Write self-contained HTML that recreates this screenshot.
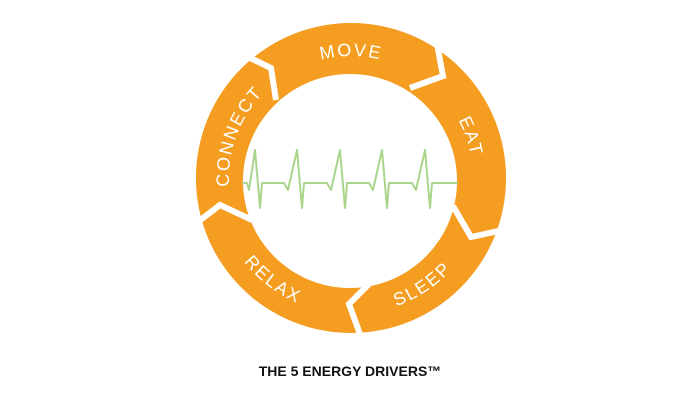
<!DOCTYPE html>
<html><head><style>
html,body{margin:0;padding:0;background:#fff;}
svg{display:block}
</style></head><body>
<svg width="700" height="401" viewBox="0 0 700 401" xmlns="http://www.w3.org/2000/svg">
<defs>
<path id="cw" d="M351,300 A122,122 0 1,1 351,56 A122,122 0 1,1 351,300"/>
<path id="ccw" d="M351,42 A136,136 0 1,0 351,314 A136,136 0 1,0 351,42"/>
</defs>
<path fill="#f49d20" fill-rule="evenodd" d="M351,23 A155,155 0 1,1 351,333 A155,155 0 1,1 351,23 Z M350,74 A107,107 0 1,0 350,288 A107,107 0 1,0 350,74 Z"/>
<g fill="none" stroke="#fff" stroke-width="6" stroke-linejoin="miter">
<polyline points="434,28 443,76 410,88"/>
<polyline points="512,228 471,237 453,206"/>
<polyline points="364,345 349,304 369,284"/>
<polyline points="190,228 220,205 252,220"/>
<polyline points="238,52 271,68 276,100"/>
</g>
<g fill="#fff" font-family="Liberation Sans, sans-serif" font-size="18" letter-spacing="2" text-anchor="middle">
<text><textPath href="#cw" startOffset="50%">MOVE</textPath></text>
<text><textPath href="#cw" startOffset="69.7%">EAT</textPath></text>
<text><textPath href="#cw" startOffset="30.6%">CONNECT</textPath></text>
<text><textPath href="#ccw" startOffset="59.4%">SLEEP</textPath></text>
<text><textPath href="#ccw" startOffset="39.6%">RELAX</textPath></text>
</g>
<polyline fill="none" stroke="#a9d68c" stroke-width="2" stroke-linejoin="round" points="
242,183 247,183 249,190 255,150 260,208 262,183 284,183 288,190 297,150 302,208 304,183 327,183 331,190 340,150 345,208 347,183 369,183 373,190 382,150 387,208 389,183 412,183 416,190 425,150 430,208 432,183 458,183"/>
<text x="350" y="376" text-anchor="middle" font-family="Liberation Sans, sans-serif" font-weight="bold" font-size="14" fill="#111">THE 5 ENERGY DRIVERS™</text>
</svg>
</body></html>
